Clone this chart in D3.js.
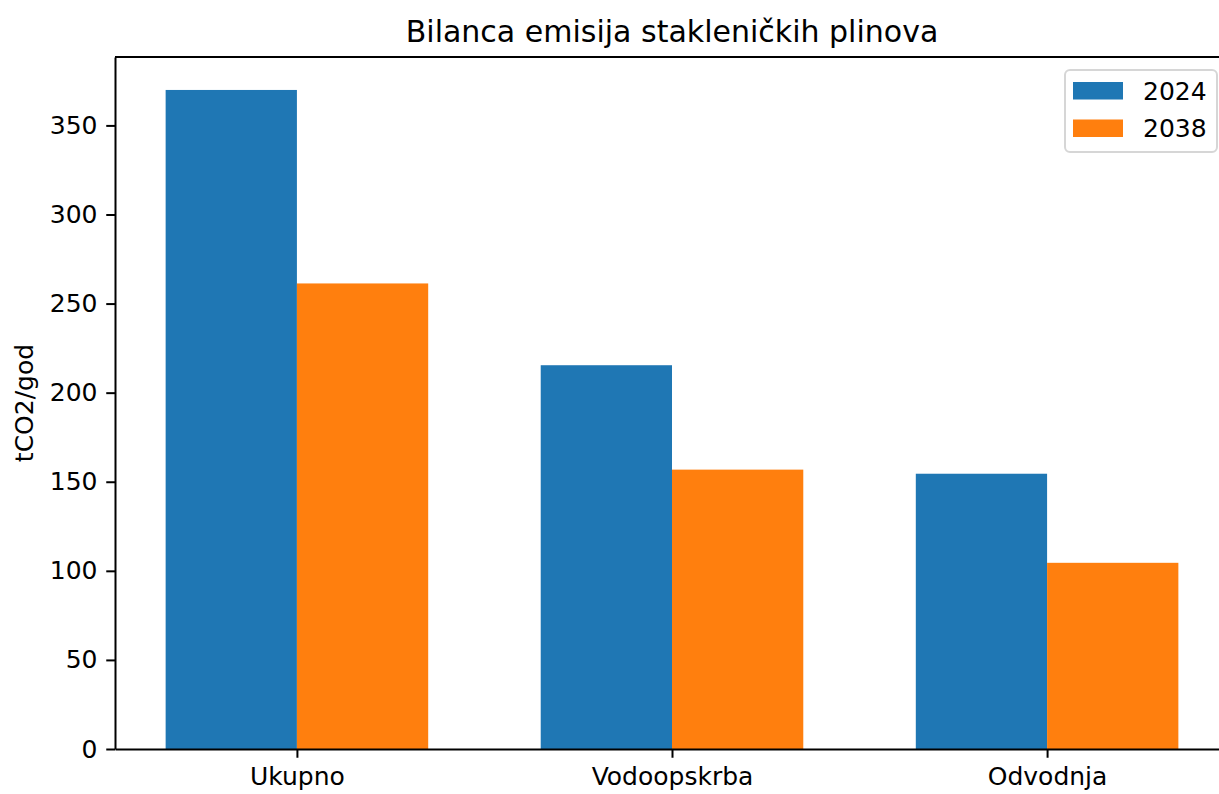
<!DOCTYPE html>
<html>
<head>
<meta charset="utf-8">
<script src="https://cdn.jsdelivr.net/npm/d3@7"></script>
<style>
  body { margin: 0; background: #fff; }
  text { font-family: "DejaVu Sans", sans-serif; fill: #000; }
</style>
</head>
<body>
<div id="chart"></div>
<script>
// Données
const categories = ['Ukupno', 'Vodoopskrba', 'Odvodnja'];
const years = ['2024', '2038'];
const values2024 = [369.9, 215.4, 154.5];
const values2038 = [261.3, 156.8, 104.5];
const yTicks = [0, 50, 100, 150, 200, 250, 300, 350];
const colors = ['#1f77b4', '#ff7f0e'];

const width = 1219, height = 794;
const margin = { top: 57, left: 115, bottom: 749, right: 1229 };
const barW = 0.35;

const svg = d3.select('#chart').append('svg')
  .attr('width', width).attr('height', height);

// échelles (marges 5 % comme matplotlib)
const xMin = -barW, xMax = categories.length - 1 + barW;
const pad = (xMax - xMin) * 0.05;
const x = d3.scaleLinear().domain([xMin - pad, xMax + pad]).range([margin.left, margin.right]);
const yMax = d3.max(values2024.concat(values2038)) * 1.05;
const y = d3.scaleLinear().domain([0, yMax]).range([margin.bottom, margin.top]);

// barres
const series = [values2024, values2038];
series.forEach((vals, s) => {
  svg.append('g').selectAll('rect')
    .data(vals)
    .enter().append('rect')
    .attr('x', (d, i) => x(i + (s === 0 ? -barW : 0)))
    .attr('y', d => y(d))
    .attr('width', x(barW) - x(0))
    .attr('height', d => y(0) - y(d))
    .attr('fill', colors[s]);
});

// axes
const tick = 8.75;
const yAxis = svg.append('g')
  .attr('transform', `translate(${margin.left},0)`)
  .call(d3.axisLeft(y).tickValues(yTicks).tickFormat(d3.format('d'))
    .tickSize(tick).tickSizeOuter(0).tickPadding(tick));
const xAxis = svg.append('g')
  .attr('transform', `translate(0,${margin.bottom})`)
  .call(d3.axisBottom(x).tickValues(d3.range(categories.length))
    .tickFormat(i => categories[i]).tickSize(tick).tickSizeOuter(0).tickPadding(tick));
[yAxis, xAxis].forEach(g => {
  g.selectAll('text').style('font-size', '25px').style('font-family', '"DejaVu Sans", sans-serif').attr('fill', '#000');
  g.selectAll('line').attr('stroke', '#000').attr('stroke-width', 2);
  g.select('.domain').attr('stroke', '#000').attr('stroke-width', 2);
});
xAxis.selectAll('text').attr('dy', null).attr('y', 36);

// cadre haut / droite
svg.append('line').attr('x1', margin.left).attr('x2', margin.right)
  .attr('y1', margin.top).attr('y2', margin.top).attr('stroke', '#000').attr('stroke-width', 2);
svg.append('line').attr('x1', margin.right).attr('x2', margin.right)
  .attr('y1', margin.top).attr('y2', margin.bottom).attr('stroke', '#000').attr('stroke-width', 2);

// titre
svg.append('text')
  .attr('x', (margin.left + margin.right) / 2).attr('y', 42)
  .attr('text-anchor', 'middle').style('font-size', '30px')
  .text('Bilanca emisija stakleničkih plinova');

// label axe y
svg.append('text')
  .attr('transform', `translate(33,${(margin.top + margin.bottom) / 2}) rotate(-90)`)
  .attr('text-anchor', 'middle').style('font-size', '25px')
  .text('tCO2/god');

// légende
const legend = svg.append('g').attr('transform', 'translate(1065,70)');
legend.append('rect')
  .attr('width', 152).attr('height', 82).attr('rx', 5)
  .attr('fill', '#fff').attr('fill-opacity', 0.8)
  .attr('stroke', '#d6d6d6').attr('stroke-width', 2);
years.forEach((yr, i) => {
  legend.append('rect')
    .attr('x', 8).attr('y', 12 + i * 37.5)
    .attr('width', 50).attr('height', 17.5)
    .attr('fill', colors[i]);
  legend.append('text')
    .attr('x', 78).attr('y', 29.5 + i * 37.5)
    .style('font-size', '25px')
    .text(yr);
});
</script>
</body>
</html>
